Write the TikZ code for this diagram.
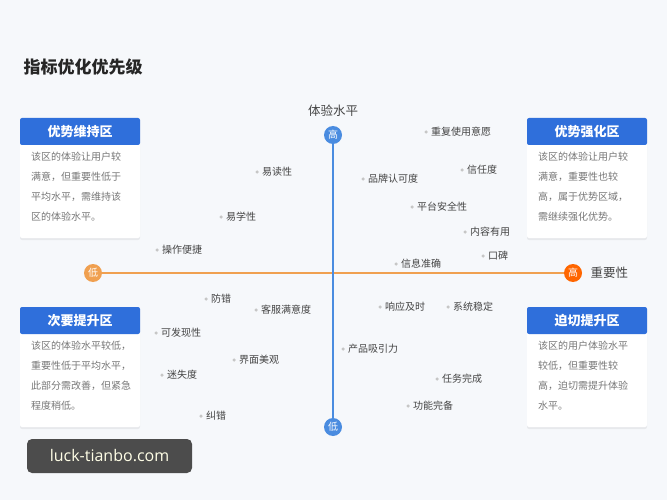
\documentclass[tikz,border=0pt]{standalone}
\usepackage{fontspec}
\setmainfont{Noto Sans CJK SC}
\usetikzlibrary{shadows}
\definecolor{bg}{HTML}{F6F8FB}
\definecolor{hblue}{HTML}{2F6FDB}
\definecolor{axblue}{HTML}{4A8CE0}
\definecolor{axorange}{HTML}{F0A050}
\definecolor{lbl}{HTML}{444444}
\definecolor{txt}{HTML}{777777}
\begin{document}
\begin{tikzpicture}[x=1pt,y=-1pt,
  pt/.style={circle,fill=gray!45,inner sep=0pt,minimum size=3.5pt},
  ptl/.style={font=\fontsize{10}{11}\selectfont,text=lbl,anchor=west,inner sep=1.5pt},
  qbox/.style={draw=none,fill=white,rounded corners=2pt,drop shadow={shadow xshift=0pt,shadow yshift=-2pt,opacity=0.12}},
  qhead/.style={fill=hblue,rounded corners=2pt},
  qtitle/.style={font=\bfseries\fontsize{13}{14}\selectfont,text=white},
  qtext/.style={font=\fontsize{10}{20}\selectfont,text=txt,anchor=north west,align=left,inner sep=0pt},
  bcirc/.style={circle,fill=axblue,text=white,inner sep=0pt,minimum size=18pt,font=\fontsize{10}{10}\selectfont},
  ocirc/.style={circle,fill=axorange,text=white,inner sep=0pt,minimum size=18pt,font=\fontsize{10}{10}\selectfont}]
\fill[bg] (0,0) rectangle (667,500);
\useasboundingbox (0,0) rectangle (667,500);
\node[anchor=west,font=\bfseries\fontsize{17}{18}\selectfont,text=black!85] (title) at (20,67) {指标优化优先级};
% axes
\node[bcirc] (vt) at (333,135) {高};
\node[bcirc] (vb) at (333,427) {低};
\node[ocirc] (hl) at (93,273) {低};
\node[ocirc,fill=orange!80!red] (hr) at (573,273) {高};
\draw[axorange,line width=1.6pt] (hl) -- (hr);
\draw[axblue,line width=1.6pt] (vt) -- (vb);
\node[font=\fontsize{12.5}{13}\selectfont,text=lbl] (vlab) at (333,111) {体验水平};
\node[font=\fontsize{12.5}{13}\selectfont,text=lbl,anchor=west] (hlab) at (587,273) {重要性};
% boxes
\foreach \nm/\x/\y/\t/\body in {
  tl/20/118/优势维持区/{该区的体验让用户较\\满意，但重要性低于\\平均水平，需维持该\\区的体验水平。},
  tr/527/118/优势强化区/{该区的体验让用户较\\满意，重要性也较\\高，属于优势区域，\\需继续强化优势。},
  bl/20/307/次要提升区/{该区的体验水平较低，\\重要性低于平均水平，\\此部分需改善，但紧急\\程度稍低。},
  br/527/307/迫切提升区/{该区的用户体验水平\\较低，但重要性较\\高，迫切需提升体验\\水平。}}{
  \fill[qbox] (\x,\y) rectangle ++(120,120);
  \fill[qhead] (\x,\y) rectangle ++(120,27);
  \node[qtitle] (\nm h) at ([xshift=60pt,yshift=-13.5pt]\x,\y) {\t};
  \node[qtext] (\nm b) at ([xshift=11pt,yshift=-34pt]\x,\y) {\body};
}
% points
\foreach \i/\x/\y/\t in {
  a/257/172/易读性, b/221/217/易学性, c/157/250/操作便捷,
  d/426/132/重复使用意愿, e/363/179/品牌认可度, f/462/170/信任度,
  g/412/207/平台安全性, h/465/232/内容有用, i/483/256/口碑,
  j/396/264/信息准确, k/206/299/防错, l/256/310/客服满意度,
  m/380/307/响应及时, n/448/307/系统稳定, o/156/333/可发现性,
  p/343/349/产品吸引力, q/234/360/界面美观, r/162/375/迷失度,
  s/437/379/任务完成, t/408/406/功能完备, u/201/416/纠错}{
  \node[pt] (p\i) at (\x,\y) {};
  \node[ptl] (l\i) at ([xshift=1.5pt]p\i.east) {\t};
}
% watermark
\node[fill=black!70,rounded corners=5pt,minimum width=165pt,minimum height=34pt,text=yellow!10,font=\fontsize{16}{17}\selectfont\fontspec{Open Sans}] (wm) at (109.5,456) {luck-tianbo.com};
\end{tikzpicture}
\end{document}
